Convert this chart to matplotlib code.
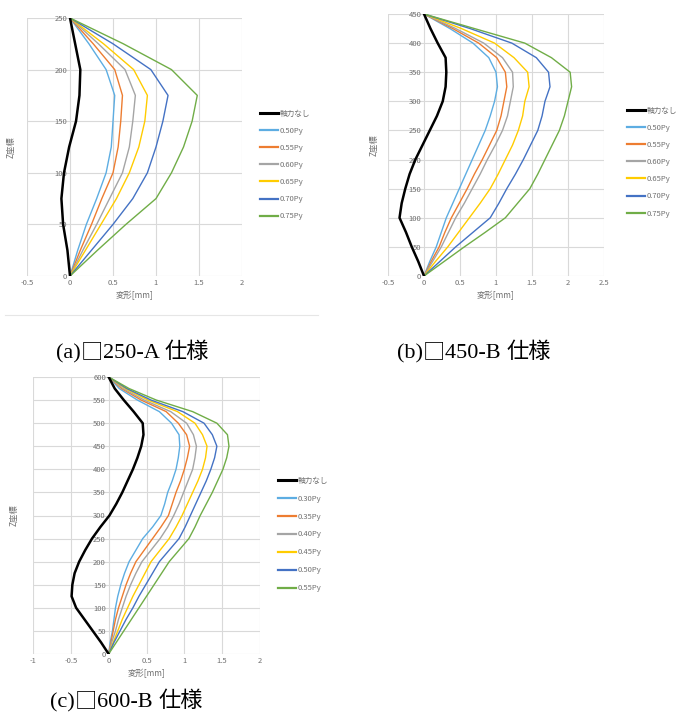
import numpy as np
import matplotlib
matplotlib.use("Agg")
import matplotlib.pyplot as plt
from matplotlib.ticker import FuncFormatter
from matplotlib.lines import Line2D

plt.rcParams['font.family'] = ['Noto Sans CJK JP', 'DejaVu Sans']

# ---- data ----
colors = ['#000000', '#5DADE2', '#ED7D31', '#A5A5A5', '#FFCC00', '#4472C4', '#70AD47']

# (a) 250-A
z_a = [0, 25, 50, 75, 100, 125, 150, 175, 200, 225, 250]
labels_a = ['軸力なし', '0.50Py', '0.55Py', '0.60Py', '0.65Py', '0.70Py', '0.75Py']
a_none = [0, -0.03, -0.08, -0.10, -0.07, -0.01, 0.07, 0.11, 0.12, 0.06, 0]
a_050 = [0, 0.09, 0.19, 0.31, 0.42, 0.48, 0.50, 0.52, 0.42, 0.22, 0]
a_055 = [0, 0.12, 0.25, 0.37, 0.50, 0.56, 0.59, 0.61, 0.52, 0.27, 0]
a_060 = [0, 0.15, 0.31, 0.46, 0.61, 0.69, 0.73, 0.76, 0.64, 0.33, 0]
a_065 = [0, 0.18, 0.36, 0.54, 0.69, 0.80, 0.87, 0.90, 0.74, 0.39, 0]
a_070 = [0, 0.25, 0.50, 0.73, 0.90, 1.00, 1.08, 1.14, 0.94, 0.50, 0]
a_075 = [0, 0.32, 0.65, 1.00, 1.18, 1.32, 1.42, 1.48, 1.18, 0.62, 0]

# (b) 450-B
z_b = [0, 25, 50, 75, 100, 125, 150, 175, 200, 225, 250, 275, 300, 325, 350, 375, 400, 425, 450]
labels_b = ['軸力なし', '0.50Py', '0.55Py', '0.60Py', '0.65Py', '0.70Py', '0.75Py']
b_none = [0, -0.08, -0.17, -0.25, -0.34, -0.31, -0.26, -0.20, -0.12, -0.02, 0.08, 0.18, 0.26, 0.30, 0.31, 0.30, 0.19, 0.09, 0]
b_050 = [0, 0.08, 0.17, 0.24, 0.31, 0.40, 0.49, 0.58, 0.67, 0.76, 0.85, 0.92, 0.98, 1.02, 1.00, 0.90, 0.68, 0.36, 0]
b_055 = [0, 0.10, 0.21, 0.29, 0.38, 0.49, 0.60, 0.70, 0.81, 0.91, 1.01, 1.07, 1.11, 1.15, 1.13, 1.01, 0.76, 0.40, 0]
b_060 = [0, 0.12, 0.24, 0.34, 0.44, 0.56, 0.67, 0.78, 0.88, 0.99, 1.09, 1.16, 1.20, 1.24, 1.23, 1.09, 0.83, 0.44, 0]
b_065 = [0, 0.16, 0.33, 0.48, 0.63, 0.78, 0.92, 1.03, 1.13, 1.23, 1.31, 1.37, 1.40, 1.46, 1.44, 1.25, 0.98, 0.52, 0]
b_070 = [0, 0.22, 0.44, 0.68, 0.92, 1.04, 1.15, 1.27, 1.38, 1.48, 1.58, 1.64, 1.68, 1.75, 1.73, 1.56, 1.22, 0.64, 0]
b_075 = [0, 0.28, 0.56, 0.85, 1.13, 1.30, 1.47, 1.58, 1.68, 1.78, 1.88, 1.95, 2.00, 2.05, 2.03, 1.77, 1.40, 0.70, 0]

# (c) 600-B
z_c = [0, 25, 50, 75, 100, 125, 150, 175, 200, 225, 250, 275, 300,
       325, 350, 375, 400, 425, 450, 475, 500, 525, 550, 575, 600]
labels_c = ['軸力なし', '0.30Py', '0.35Py', '0.40Py', '0.45Py', '0.50Py', '0.55Py']
c_none = [0, -0.10, -0.21, -0.32, -0.43, -0.49, -0.48, -0.45, -0.39, -0.31, -0.22, -0.11, 0.01,
          0.10, 0.18, 0.25, 0.32, 0.38, 0.43, 0.46, 0.45, 0.33, 0.20, 0.08, 0]
c_030 = [0, 0.02, 0.05, 0.07, 0.09, 0.12, 0.16, 0.21, 0.27, 0.36, 0.45, 0.58, 0.69,
         0.74, 0.78, 0.84, 0.89, 0.92, 0.94, 0.93, 0.83, 0.67, 0.38, 0.14, 0]
c_035 = [0, 0.03, 0.06, 0.09, 0.13, 0.18, 0.23, 0.29, 0.36, 0.47, 0.58, 0.69, 0.79,
         0.84, 0.89, 0.95, 1.00, 1.04, 1.07, 1.03, 0.92, 0.76, 0.43, 0.17, 0]
c_040 = [0, 0.04, 0.09, 0.13, 0.18, 0.23, 0.29, 0.36, 0.44, 0.56, 0.68, 0.78, 0.86,
         0.93, 0.99, 1.05, 1.11, 1.14, 1.16, 1.12, 1.03, 0.82, 0.47, 0.19, 0]
c_045 = [0, 0.06, 0.12, 0.18, 0.25, 0.32, 0.40, 0.48, 0.56, 0.68, 0.80, 0.89, 0.97,
         1.04, 1.11, 1.18, 1.24, 1.28, 1.30, 1.24, 1.14, 0.91, 0.52, 0.22, 0]
c_050 = [0, 0.07, 0.15, 0.23, 0.32, 0.40, 0.49, 0.58, 0.67, 0.80, 0.93, 1.01, 1.08,
         1.15, 1.22, 1.29, 1.35, 1.40, 1.43, 1.37, 1.26, 0.98, 0.56, 0.24, 0]
c_055 = [0, 0.10, 0.20, 0.30, 0.40, 0.50, 0.60, 0.70, 0.80, 0.93, 1.06, 1.14, 1.21,
         1.29, 1.37, 1.44, 1.51, 1.56, 1.59, 1.57, 1.43, 1.11, 0.63, 0.27, 0]

# captions split into latin / cjk pieces
captions = [['(a)', '□', '250-A ', '仕様'],
            ['(b)', '□', '450-B ', '仕様'],
            ['(c)', '□', '600-B ', '仕様']]

W, H = 681, 715
fig = plt.figure(figsize=(W / 100, H / 100), dpi=100)


def px_rect(l, t, r, b):
    return [l / W, 1 - b / H, (r - l) / W, (b - t) / H]


gray_txt = '#707070'


def draw(rect, z, series, labels, xlim, xticks, zmax, ylab_x, leg_xy, leg_space):
    ax = fig.add_axes(px_rect(*rect))
    for i, xs in enumerate(series):
        lw = 1.8 if i == 0 else 1.0
        ax.plot(xs, z, color=colors[i], lw=lw, zorder=3 if i == 0 else 2)
    ax.set_xlim(*xlim)
    ax.set_ylim(0, zmax)
    ax.set_xticks(xticks)
    ax.set_yticks(np.arange(0, zmax + 1, 50))
    ax.xaxis.set_major_formatter(FuncFormatter(lambda v, p: '{:g}'.format(v)))
    ax.grid(True, color='#d9d9d9', lw=0.8)
    ax.set_axisbelow(True)
    for s in ['top', 'right', 'bottom']:
        ax.spines[s].set_visible(False)
    # excel style: value axis crosses at x=0, labels next to it
    ax.spines['left'].set_position(('data', 0))
    ax.spines['left'].set_visible(False)
    ax.tick_params(length=0, labelsize=5.5, labelcolor=gray_txt, pad=2)
    ax.set_xlabel('変形[mm]', fontsize=6, color=gray_txt, labelpad=3)
    ax.set_ylabel('Z座標', fontsize=6, color=gray_txt)
    ax.yaxis.set_label_coords(ylab_x, 0.5)
    handles = [Line2D([], [], color=colors[i], lw=2.2 if i == 0 else 1.6) for i in range(len(labels))]
    leg = ax.legend(handles, labels, loc='center left', bbox_to_anchor=leg_xy,
                    bbox_transform=fig.transFigure, frameon=False, fontsize=5.5,
                    handlelength=2.4, handletextpad=0.2, labelspacing=leg_space,
                    borderpad=0, borderaxespad=0)
    for t in leg.get_texts():
        t.set_color(gray_txt)
    return ax


draw((27, 18, 242, 276), z_a, [a_none, a_050, a_055, a_060, a_065, a_070, a_075], labels_a,
     (-0.5, 2), [-0.5, 0, 0.5, 1, 1.5, 2], 250, -0.056, (260 / W, 1 - 165 / H), 1.2)
draw((388, 14, 604, 276), z_b, [b_none, b_050, b_055, b_060, b_065, b_070, b_075], labels_b,
     (-0.5, 2.5), [-0.5, 0, 0.5, 1, 1.5, 2, 2.5], 450, -0.046, (627 / W, 1 - 162 / H), 1.2)
draw((33, 377, 260, 654), z_c, [c_none, c_030, c_035, c_040, c_045, c_050, c_055], labels_c,
     (-1, 2), [-1, -0.5, 0, 0.5, 1, 1.5, 2], 600, -0.066, (278 / W, 1 - 534.5 / H), 1.3)

# chart border line under (a)
fig.add_artist(Line2D([5 / W, 318 / W], [1 - 315 / H, 1 - 315 / H], color='#e6e6e6', lw=0.8))

renderer = fig.canvas.get_renderer()


def put_caption(x_left, y_base, parts, size=16):
    # each piece starts where the previous one ends, same baseline
    x = x_left
    for p in parts:
        fam = 'Noto Sans CJK JP' if p in ('□', '仕様') else 'Liberation Serif'
        t = fig.text(x / W, 1 - y_base / H, p, ha='left', va='baseline',
                     fontsize=size, family=fam)
        x = t.get_window_extent(renderer).x1


put_caption(56, 358, captions[0])
put_caption(397, 358, captions[1])
put_caption(50, 707, captions[2])

fig.savefig('out.png', dpi=100)
